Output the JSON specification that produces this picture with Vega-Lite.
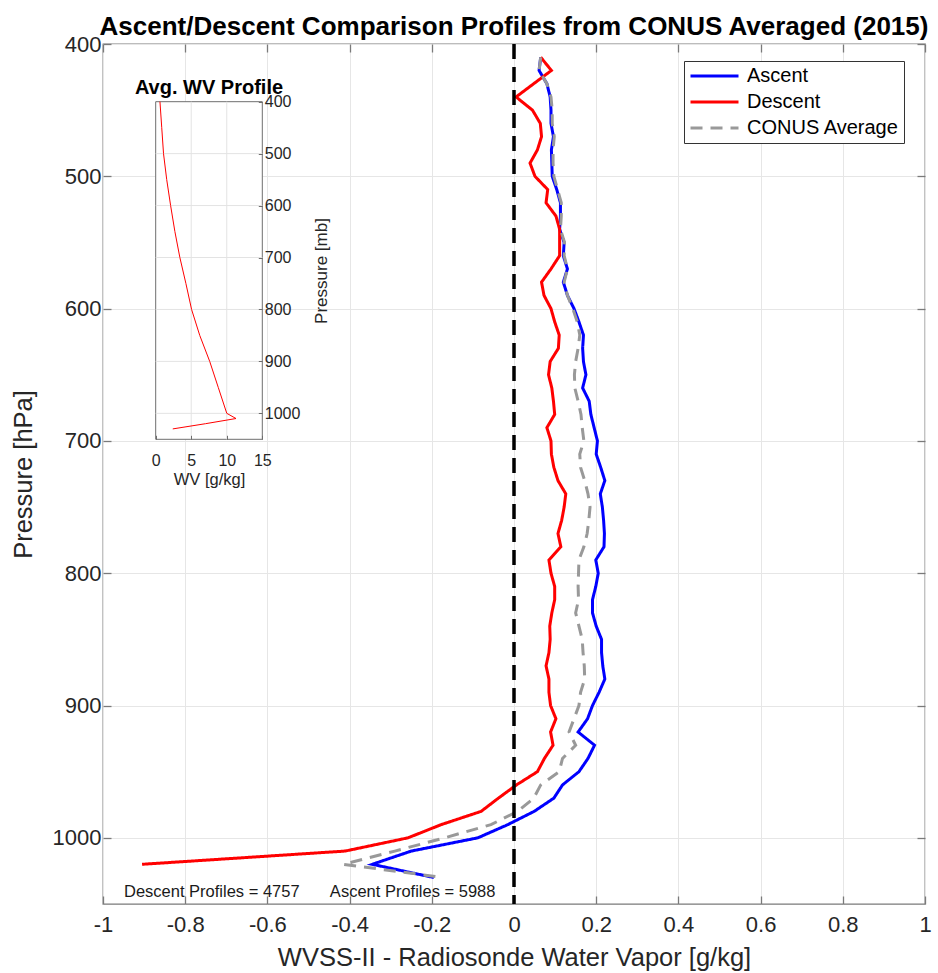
{
  "$schema": "https://vega.github.io/schema/vega-lite/v6.json",
  "width": 822,
  "height": 860,
  "autosize": "none",
  "padding": {"left": 103, "top": 44, "right": 13, "bottom": 69},
  "title": {"text": "Ascent/Descent Comparison Profiles from CONUS Averaged (2015)", "fontSize": 26, "fontWeight": "bold", "font": "Liberation Sans", "color": "#000000", "anchor": "middle", "offset": -7},
  "config": {
    "view": {"stroke": "#7a7a7a", "strokeWidth": 1.3},
    "font": "Liberation Sans",
    "axis": {"labelFont": "Liberation Sans", "titleFont": "Liberation Sans", "labelFlush": false, "labelOverlap": false},
    "legend": {"labelFont": "Liberation Sans"}
  },
  "datasets": {
    "profiles": [
      {"s": "Ascent", "p": 410, "v": 0.065}, {"s": "Ascent", "p": 420, "v": 0.061}, {"s": "Ascent", "p": 430, "v": 0.080}, {"s": "Ascent", "p": 440, "v": 0.088},
      {"s": "Ascent", "p": 450, "v": 0.090}, {"s": "Ascent", "p": 460, "v": 0.090}, {"s": "Ascent", "p": 470, "v": 0.096}, {"s": "Ascent", "p": 480, "v": 0.091},
      {"s": "Ascent", "p": 490, "v": 0.092}, {"s": "Ascent", "p": 500, "v": 0.093}, {"s": "Ascent", "p": 510, "v": 0.104}, {"s": "Ascent", "p": 520, "v": 0.113},
      {"s": "Ascent", "p": 530, "v": 0.113}, {"s": "Ascent", "p": 540, "v": 0.111}, {"s": "Ascent", "p": 550, "v": 0.122}, {"s": "Ascent", "p": 560, "v": 0.120},
      {"s": "Ascent", "p": 570, "v": 0.130}, {"s": "Ascent", "p": 580, "v": 0.120}, {"s": "Ascent", "p": 590, "v": 0.130}, {"s": "Ascent", "p": 600, "v": 0.146},
      {"s": "Ascent", "p": 610, "v": 0.158}, {"s": "Ascent", "p": 620, "v": 0.169}, {"s": "Ascent", "p": 630, "v": 0.167}, {"s": "Ascent", "p": 640, "v": 0.169},
      {"s": "Ascent", "p": 650, "v": 0.175}, {"s": "Ascent", "p": 660, "v": 0.167}, {"s": "Ascent", "p": 670, "v": 0.183}, {"s": "Ascent", "p": 680, "v": 0.187},
      {"s": "Ascent", "p": 690, "v": 0.195}, {"s": "Ascent", "p": 700, "v": 0.203}, {"s": "Ascent", "p": 710, "v": 0.200}, {"s": "Ascent", "p": 720, "v": 0.211},
      {"s": "Ascent", "p": 730, "v": 0.221}, {"s": "Ascent", "p": 740, "v": 0.210}, {"s": "Ascent", "p": 750, "v": 0.215}, {"s": "Ascent", "p": 760, "v": 0.218},
      {"s": "Ascent", "p": 770, "v": 0.220}, {"s": "Ascent", "p": 780, "v": 0.219}, {"s": "Ascent", "p": 790, "v": 0.199}, {"s": "Ascent", "p": 800, "v": 0.205},
      {"s": "Ascent", "p": 810, "v": 0.199}, {"s": "Ascent", "p": 820, "v": 0.191}, {"s": "Ascent", "p": 830, "v": 0.191}, {"s": "Ascent", "p": 840, "v": 0.200},
      {"s": "Ascent", "p": 850, "v": 0.213}, {"s": "Ascent", "p": 860, "v": 0.213}, {"s": "Ascent", "p": 870, "v": 0.216}, {"s": "Ascent", "p": 880, "v": 0.221},
      {"s": "Ascent", "p": 890, "v": 0.207}, {"s": "Ascent", "p": 900, "v": 0.191}, {"s": "Ascent", "p": 910, "v": 0.179}, {"s": "Ascent", "p": 920, "v": 0.156},
      {"s": "Ascent", "p": 930, "v": 0.196}, {"s": "Ascent", "p": 940, "v": 0.180}, {"s": "Ascent", "p": 950, "v": 0.158}, {"s": "Ascent", "p": 960, "v": 0.118},
      {"s": "Ascent", "p": 970, "v": 0.097}, {"s": "Ascent", "p": 980, "v": 0.049}, {"s": "Ascent", "p": 990, "v": -0.015}, {"s": "Ascent", "p": 1000, "v": -0.088},
      {"s": "Ascent", "p": 1010, "v": -0.250}, {"s": "Ascent", "p": 1020, "v": -0.345}, {"s": "Ascent", "p": 1030, "v": -0.195},

      {"s": "Descent", "p": 410, "v": 0.065}, {"s": "Descent", "p": 420, "v": 0.091}, {"s": "Descent", "p": 440, "v": 0.005},
      {"s": "Descent", "p": 450, "v": 0.045}, {"s": "Descent", "p": 460, "v": 0.064}, {"s": "Descent", "p": 470, "v": 0.067}, {"s": "Descent", "p": 480, "v": 0.057},
      {"s": "Descent", "p": 490, "v": 0.039}, {"s": "Descent", "p": 500, "v": 0.051}, {"s": "Descent", "p": 510, "v": 0.082}, {"s": "Descent", "p": 520, "v": 0.078},
      {"s": "Descent", "p": 530, "v": 0.102}, {"s": "Descent", "p": 540, "v": 0.111}, {"s": "Descent", "p": 550, "v": 0.111}, {"s": "Descent", "p": 560, "v": 0.111},
      {"s": "Descent", "p": 570, "v": 0.090}, {"s": "Descent", "p": 580, "v": 0.067}, {"s": "Descent", "p": 590, "v": 0.073}, {"s": "Descent", "p": 600, "v": 0.090},
      {"s": "Descent", "p": 610, "v": 0.099}, {"s": "Descent", "p": 620, "v": 0.110}, {"s": "Descent", "p": 630, "v": 0.108}, {"s": "Descent", "p": 640, "v": 0.088},
      {"s": "Descent", "p": 650, "v": 0.084}, {"s": "Descent", "p": 660, "v": 0.092}, {"s": "Descent", "p": 670, "v": 0.096}, {"s": "Descent", "p": 680, "v": 0.099},
      {"s": "Descent", "p": 690, "v": 0.080}, {"s": "Descent", "p": 700, "v": 0.090}, {"s": "Descent", "p": 710, "v": 0.091}, {"s": "Descent", "p": 720, "v": 0.097},
      {"s": "Descent", "p": 730, "v": 0.107}, {"s": "Descent", "p": 740, "v": 0.126}, {"s": "Descent", "p": 750, "v": 0.122}, {"s": "Descent", "p": 760, "v": 0.116},
      {"s": "Descent", "p": 770, "v": 0.107}, {"s": "Descent", "p": 780, "v": 0.114}, {"s": "Descent", "p": 790, "v": 0.085}, {"s": "Descent", "p": 800, "v": 0.090},
      {"s": "Descent", "p": 810, "v": 0.099}, {"s": "Descent", "p": 820, "v": 0.099}, {"s": "Descent", "p": 830, "v": 0.092}, {"s": "Descent", "p": 840, "v": 0.087},
      {"s": "Descent", "p": 850, "v": 0.088}, {"s": "Descent", "p": 860, "v": 0.085}, {"s": "Descent", "p": 870, "v": 0.078}, {"s": "Descent", "p": 880, "v": 0.085},
      {"s": "Descent", "p": 890, "v": 0.085}, {"s": "Descent", "p": 900, "v": 0.089}, {"s": "Descent", "p": 910, "v": 0.102}, {"s": "Descent", "p": 920, "v": 0.089},
      {"s": "Descent", "p": 930, "v": 0.095}, {"s": "Descent", "p": 940, "v": 0.074}, {"s": "Descent", "p": 950, "v": 0.057}, {"s": "Descent", "p": 960, "v": 0.006},
      {"s": "Descent", "p": 970, "v": -0.038}, {"s": "Descent", "p": 980, "v": -0.080}, {"s": "Descent", "p": 990, "v": -0.177}, {"s": "Descent", "p": 1000, "v": -0.258},
      {"s": "Descent", "p": 1010, "v": -0.411}, {"s": "Descent", "p": 1020, "v": -0.905},

      {"s": "CONUS Average", "p": 410, "v": 0.065}, {"s": "CONUS Average", "p": 420, "v": 0.061}, {"s": "CONUS Average", "p": 430, "v": 0.080}, {"s": "CONUS Average", "p": 440, "v": 0.090},
      {"s": "CONUS Average", "p": 450, "v": 0.093}, {"s": "CONUS Average", "p": 460, "v": 0.093}, {"s": "CONUS Average", "p": 470, "v": 0.098}, {"s": "CONUS Average", "p": 480, "v": 0.095},
      {"s": "CONUS Average", "p": 490, "v": 0.095}, {"s": "CONUS Average", "p": 500, "v": 0.097}, {"s": "CONUS Average", "p": 510, "v": 0.106}, {"s": "CONUS Average", "p": 520, "v": 0.115},
      {"s": "CONUS Average", "p": 530, "v": 0.115}, {"s": "CONUS Average", "p": 540, "v": 0.113}, {"s": "CONUS Average", "p": 550, "v": 0.123}, {"s": "CONUS Average", "p": 560, "v": 0.122},
      {"s": "CONUS Average", "p": 570, "v": 0.130}, {"s": "CONUS Average", "p": 580, "v": 0.122}, {"s": "CONUS Average", "p": 590, "v": 0.130}, {"s": "CONUS Average", "p": 600, "v": 0.143},
      {"s": "CONUS Average", "p": 610, "v": 0.154}, {"s": "CONUS Average", "p": 620, "v": 0.160}, {"s": "CONUS Average", "p": 630, "v": 0.156}, {"s": "CONUS Average", "p": 640, "v": 0.150},
      {"s": "CONUS Average", "p": 650, "v": 0.147}, {"s": "CONUS Average", "p": 660, "v": 0.148}, {"s": "CONUS Average", "p": 670, "v": 0.156}, {"s": "CONUS Average", "p": 680, "v": 0.163},
      {"s": "CONUS Average", "p": 690, "v": 0.166}, {"s": "CONUS Average", "p": 700, "v": 0.170}, {"s": "CONUS Average", "p": 710, "v": 0.160}, {"s": "CONUS Average", "p": 720, "v": 0.162},
      {"s": "CONUS Average", "p": 730, "v": 0.172}, {"s": "CONUS Average", "p": 740, "v": 0.180}, {"s": "CONUS Average", "p": 750, "v": 0.185}, {"s": "CONUS Average", "p": 760, "v": 0.182},
      {"s": "CONUS Average", "p": 770, "v": 0.178}, {"s": "CONUS Average", "p": 780, "v": 0.170}, {"s": "CONUS Average", "p": 790, "v": 0.158}, {"s": "CONUS Average", "p": 800, "v": 0.157},
      {"s": "CONUS Average", "p": 810, "v": 0.156}, {"s": "CONUS Average", "p": 820, "v": 0.157}, {"s": "CONUS Average", "p": 830, "v": 0.150}, {"s": "CONUS Average", "p": 840, "v": 0.158},
      {"s": "CONUS Average", "p": 850, "v": 0.166}, {"s": "CONUS Average", "p": 860, "v": 0.168}, {"s": "CONUS Average", "p": 870, "v": 0.171}, {"s": "CONUS Average", "p": 880, "v": 0.172},
      {"s": "CONUS Average", "p": 890, "v": 0.162}, {"s": "CONUS Average", "p": 900, "v": 0.158}, {"s": "CONUS Average", "p": 910, "v": 0.146}, {"s": "CONUS Average", "p": 920, "v": 0.134},
      {"s": "CONUS Average", "p": 930, "v": 0.150}, {"s": "CONUS Average", "p": 940, "v": 0.118}, {"s": "CONUS Average", "p": 950, "v": 0.110}, {"s": "CONUS Average", "p": 960, "v": 0.065},
      {"s": "CONUS Average", "p": 970, "v": 0.048}, {"s": "CONUS Average", "p": 980, "v": 0.009}, {"s": "CONUS Average", "p": 990, "v": -0.056}, {"s": "CONUS Average", "p": 1000, "v": -0.169},
      {"s": "CONUS Average", "p": 1010, "v": -0.290}, {"s": "CONUS Average", "p": 1020, "v": -0.415}, {"s": "CONUS Average", "p": 1030, "v": -0.172}
    ],
    "wv": [
      {"p": 400, "wv": 0.6}, {"p": 450, "wv": 0.85}, {"p": 500, "wv": 1.1}, {"p": 550, "wv": 1.55}, {"p": 600, "wv": 2.1},
      {"p": 650, "wv": 2.7}, {"p": 700, "wv": 3.4}, {"p": 750, "wv": 4.25}, {"p": 800, "wv": 5.05}, {"p": 850, "wv": 6.2},
      {"p": 900, "wv": 7.6}, {"p": 950, "wv": 8.8}, {"p": 1000, "wv": 10.0}, {"p": 1010, "wv": 11.3}, {"p": 1020, "wv": 7.0},
      {"p": 1030, "wv": 2.4}
    ]
  },
  "resolve": {"scale": {"x": "independent", "y": "independent"}},
  "layer": [
    {
      "layer": [
        {
          "data": {"name": "profiles"},
          "mark": {"type": "line", "strokeWidth": 3},
          "encoding": {
            "x": {"field": "v", "type": "quantitative", "title": "WVSS-II - Radiosonde Water Vapor [g/kg]",
              "scale": {"domain": [-1, 1], "nice": false, "zero": false},
              "axis": {"orient": "bottom", "values": [-1, -0.8, -0.6, -0.4, -0.2, 0, 0.2, 0.4, 0.6, 0.8, 1], "labelExpr": "toString(datum.value)",
                "labelFontSize": 22, "labelColor": "#262626", "labelPadding": 18, "tickSize": -8, "tickColor": "#7a7a7a", "tickWidth": 1.3,
                "domain": false, "grid": true, "gridColor": "#e6e6e6", "gridWidth": 1,
                "titleFontSize": 25.5, "titleFontWeight": "normal", "titleColor": "#262626", "titlePadding": 10}},
            "y": {"field": "p", "type": "quantitative", "title": "Pressure [hPa]",
              "scale": {"domain": [400, 1050], "nice": false, "zero": false, "reverse": true},
              "axis": {"orient": "left", "values": [400, 500, 600, 700, 800, 900, 1000], "labelExpr": "toString(datum.value)",
                "labelFontSize": 22, "labelColor": "#262626", "labelPadding": 10, "tickSize": -8, "tickColor": "#7a7a7a", "tickWidth": 1.3,
                "domain": false, "grid": true, "gridColor": "#e6e6e6", "gridWidth": 1,
                "titleFontSize": 25.5, "titleFontWeight": "normal", "titleColor": "#262626", "titlePadding": 16}},
            "color": {"field": "s", "type": "nominal",
              "scale": {"domain": ["Ascent", "Descent", "CONUS Average"], "range": ["#0000ff", "#ff0000", "#999999"]},
              "legend": {"title": null, "orient": "none", "legendX": 581, "legendY": 17, "padding": 5, "rowPadding": 6, "clipHeight": 20,
                "symbolType": "stroke", "symbolSize": 2304, "symbolStrokeWidth": 3, "labelFontSize": 20, "labelColor": "#000000",
                "labelOffset": 7, "strokeColor": "#333333", "fillColor": "#ffffff", "cornerRadius": 0}},
            "strokeDash": {"field": "s", "type": "nominal",
              "scale": {"domain": ["Ascent", "Descent", "CONUS Average"], "range": [[1, 0], [1, 0], [12, 8]]},
              "legend": {"title": null, "orient": "none", "legendX": 581, "legendY": 17, "padding": 5, "rowPadding": 6, "clipHeight": 20,
                "symbolType": "stroke", "symbolSize": 2304, "symbolStrokeWidth": 3, "labelFontSize": 20, "labelColor": "#000000",
                "labelOffset": 7, "strokeColor": "#333333", "fillColor": "#ffffff", "cornerRadius": 0}},
            "order": {"field": "p", "type": "quantitative"}
          }
        },
        {
          "data": {"values": [
            {"t": "Descent Profiles = 4757", "v": -0.949, "p": 1045},
            {"t": "Ascent Profiles = 5988", "v": -0.448, "p": 1045}
          ]},
          "mark": {"type": "text", "fontSize": 16.5, "align": "left", "baseline": "alphabetic", "color": "#1a1a1a"},
          "encoding": {
            "x": {"field": "v", "type": "quantitative", "title": "WVSS-II - Radiosonde Water Vapor [g/kg]"},
            "y": {"field": "p", "type": "quantitative", "title": "Pressure [hPa]"},
            "text": {"field": "t"}
          }
        }
      ]
    },
    {
      "data": {"values": [{"z": 0}]},
      "mark": {"type": "rule", "color": "#000000", "strokeWidth": 3.5, "strokeDash": [15, 8]},
      "encoding": {
        "x": {"datum": 0, "type": "quantitative",
          "scale": {"domain": [-1, 1], "nice": false, "zero": false},
          "axis": {"orient": "top", "title": null, "labels": false, "domain": false, "grid": false,
            "values": [-1, -0.8, -0.6, -0.4, -0.2, 0, 0.2, 0.4, 0.6, 0.8, 1], "tickSize": -8, "tickColor": "#7a7a7a", "tickWidth": 1.3}},
        "y": {"datum": 400, "type": "quantitative",
          "scale": {"domain": [400, 1050], "nice": false, "zero": false, "reverse": true},
          "axis": {"orient": "right", "title": null, "labels": false, "domain": false, "grid": false,
            "values": [400, 500, 600, 700, 800, 900, 1000], "tickSize": -8, "tickColor": "#7a7a7a", "tickWidth": 1.3}},
        "y2": {"datum": 1050}
      }
    },
    {
      "layer": [
        {
          "data": {"values": [{"x0": 0, "x1": 15, "y0": 400, "y1": 1050}]},
          "mark": {"type": "rect", "fill": "#ffffff", "stroke": "#6e6e6e", "strokeWidth": 1},
          "encoding": {
            "x": {"field": "x0", "type": "quantitative", "title": "WV [g/kg]",
              "scale": {"domain": [0, 15], "range": [52.7, 159.3], "nice": false, "zero": false},
              "axis": {"orient": "bottom", "offset": -464.7, "values": [0, 5, 10, 15], "labelExpr": "toString(datum.value)", "labelFontSize": 16, "labelColor": "#262626",
                "labelPadding": 17, "tickSize": -4, "tickColor": "#6e6e6e", "domain": false, "grid": false, "zindex": 1,
                "titleFontSize": 16.5, "titleFontWeight": "normal", "titleColor": "#262626", "titlePadding": 3}},
            "x2": {"field": "x1"},
            "y": {"field": "y0", "type": "quantitative", "title": "Pressure [mb]",
              "scale": {"domain": [400, 1050], "range": [57.7, 395.3], "nice": false, "zero": false},
              "axis": {"orient": "right", "offset": -662.7, "values": [400, 500, 600, 700, 800, 900, 1000], "labelExpr": "toString(datum.value)", "labelFontSize": 16, "labelColor": "#262626",
                "labelPadding": 6, "tickSize": -4, "tickColor": "#6e6e6e", "domain": false, "grid": false, "zindex": 1,
                "titleFontSize": 17, "titleFontWeight": "normal", "titleColor": "#262626", "titleAngle": 270, "titlePadding": 31}},
            "y2": {"field": "y1"}
          }
        },
        {
          "data": {"values": [{"g": 5}, {"g": 10}]},
          "mark": {"type": "rule", "color": "#e3e3e3", "strokeWidth": 1},
          "encoding": {
            "x": {"field": "g", "type": "quantitative", "title": "WV [g/kg]"},
            "y": {"datum": 400, "type": "quantitative", "title": "Pressure [mb]"},
            "y2": {"datum": 1050}
          }
        },
        {
          "data": {"values": [{"h": 500}, {"h": 600}, {"h": 700}, {"h": 800}, {"h": 900}, {"h": 1000}]},
          "mark": {"type": "rule", "color": "#e3e3e3", "strokeWidth": 1},
          "encoding": {
            "y": {"field": "h", "type": "quantitative", "title": "Pressure [mb]"},
            "x": {"datum": 0, "type": "quantitative", "title": "WV [g/kg]"},
            "x2": {"datum": 15}
          }
        },
        {
          "data": {"name": "wv"},
          "mark": {"type": "line", "color": "#ff0000", "strokeWidth": 1},
          "encoding": {
            "x": {"field": "wv", "type": "quantitative", "title": "WV [g/kg]"},
            "y": {"field": "p", "type": "quantitative", "title": "Pressure [mb]"},
            "order": {"field": "p", "type": "quantitative"}
          }
        },
        {
          "data": {"values": [{"t": "Avg. WV Profile", "x": 7.5, "y": 386}]},
          "mark": {"type": "text", "fontSize": 20, "fontWeight": "bold", "align": "center", "baseline": "alphabetic", "color": "#000000"},
          "encoding": {
            "x": {"field": "x", "type": "quantitative", "title": "WV [g/kg]"},
            "y": {"field": "y", "type": "quantitative", "title": "Pressure [mb]"},
            "text": {"field": "t"}
          }
        }
      ]
    }
  ]
}
